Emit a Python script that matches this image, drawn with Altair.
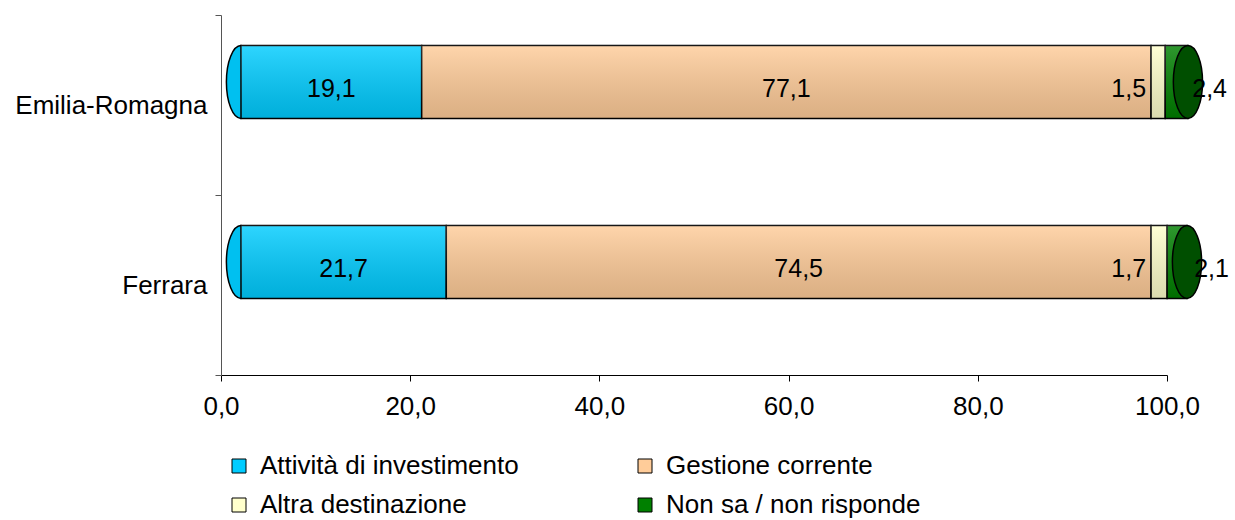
import altair as alt
import pandas as pd

categories = ["Emilia-Romagna", "Ferrara"]
series = ["Attività di investimento", "Gestione corrente", "Altra destinazione", "Non sa / non risponde"]
values_er = [19.1, 77.1, 1.5, 2.4]
values_fe = [21.7, 74.5, 1.7, 2.1]
colors = ["#00CCFF", "#FFCC99", "#FFFFCC", "#008000"]
x_ticks = [0, 20, 40, 60, 80, 100]

rows = []
for cat, vals in zip(categories, [values_er, values_fe]):
    start = 0.0
    for i, (s, v) in enumerate(zip(series, vals)):
        rows.append(dict(cat=cat, serie=s, idx=i, value=v, start=start, end=start + v,
                         mid=start + v / 2, label=f"{v:.1f}".replace(".", ",")))
        start += v
df = pd.DataFrame(rows)

FONT = "Liberation Sans"
XOFF = 20
YOFF = -23
BAR = 73

x_scale = alt.Scale(domain=[0, 100], nice=False, zero=True)
y_scale = alt.Scale(domain=categories, paddingInner=0, paddingOuter=0)

base = alt.Chart(df)

y_enc = alt.Y("cat:N", scale=y_scale, sort=categories, title=None,
              axis=alt.Axis(tickBand="extent", labelFontSize=26, labelFont=FONT,
                            labelColor="black", labelPadding=8, tickSize=6, labelLimit=400,
                            domainColor="#555", tickColor="#555", grid=False))

ellipse = "M0,-1 A0.4,1 0 1,1 0,1 A0.4,1 0 1,1 0,-1 Z"

left_cap = base.transform_filter("datum.idx == 0").mark_point(
    shape=ellipse, size=BAR * BAR, filled=True, fill="#00C0F0", stroke="black",
    strokeWidth=1.5, opacity=1, xOffset=XOFF, yOffset=YOFF
).encode(x=alt.X("start:Q", scale=x_scale), y=alt.Y("cat:N", scale=y_scale, sort=categories))

bars = base.mark_bar(stroke="black", strokeWidth=1.5, size=BAR,
                     xOffset=XOFF, x2Offset=XOFF, yOffset=YOFF, y2Offset=YOFF).encode(
    x=alt.X("start:Q", scale=x_scale, title=None,
            axis=alt.Axis(values=x_ticks, labelExpr="replace(format(datum.value, '.1f'), '.', ',')",
                          labelFontSize=26, labelFont=FONT, labelColor="black",
                          labelFlush=False, labelOverlap=False,
                          tickSize=6, labelPadding=12, domainColor="black", tickColor="black",
                          grid=False)),
    x2="end:Q",
    y=y_enc,
    color=alt.Color("serie:N", scale=alt.Scale(domain=series, range=colors), sort=series,
                    legend=alt.Legend(title=None, orient="none", legendX=5, legendY=438,
                                      direction="horizontal",
                                      columns=2, columnPadding=113, rowPadding=13,
                                      symbolType="square", symbolSize=196,
                                      symbolStrokeColor="black", symbolStrokeWidth=1,
                                      labelFontSize=26, labelFont=FONT, labelColor="black",
                                      labelOffset=8, labelLimit=500, padding=0)),
)

shade = alt.Chart(df).transform_aggregate(total="sum(value)", groupby=["cat"]).mark_bar(
    size=BAR, xOffset=XOFF, x2Offset=XOFF, yOffset=YOFF, y2Offset=YOFF,
    color=alt.Gradient(gradient="linear", x1=0, y1=0, x2=0, y2=1,
                       stops=[alt.GradientStop(offset=0, color="rgba(255,255,255,0.18)"),
                              alt.GradientStop(offset=1, color="rgba(0,0,0,0.14)")])
).encode(x=alt.X("total:Q", scale=x_scale), y=alt.Y("cat:N", scale=y_scale, sort=categories))

right_cap = alt.Chart(df).transform_aggregate(total="sum(value)", groupby=["cat"]).mark_point(
    shape=ellipse, size=BAR * BAR, filled=True, fill="#004F00", stroke="black",
    strokeWidth=1.5, opacity=1, xOffset=XOFF, yOffset=YOFF
).encode(x=alt.X("total:Q", scale=x_scale), y=alt.Y("cat:N", scale=y_scale, sort=categories))

txt_kw = dict(fontSize=25, font=FONT, color="black", baseline="middle", dy=-16)

labels_big = base.transform_filter("datum.idx < 2").mark_text(align="center", dx=XOFF, **txt_kw).encode(
    x=alt.X("mid:Q", scale=x_scale), y=alt.Y("cat:N", scale=y_scale, sort=categories), text="label:N")
labels_3 = base.transform_filter("datum.idx == 2").mark_text(align="right", dx=15, **txt_kw).encode(
    x=alt.X("start:Q", scale=x_scale), y=alt.Y("cat:N", scale=y_scale, sort=categories), text="label:N")
labels_4 = base.transform_filter("datum.idx == 3").mark_text(align="left", dx=47, **txt_kw).encode(
    x=alt.X("start:Q", scale=x_scale), y=alt.Y("cat:N", scale=y_scale, sort=categories), text="label:N")

chart = alt.layer(left_cap, bars, shade, right_cap, labels_big, labels_3, labels_4).properties(
    width=946, height=360,
    autosize=alt.AutoSizeParams(type="none"),
    padding={"left": 221, "top": 15, "right": 68, "bottom": 145},
    background="white",
).configure_view(stroke=None)

chart.save("out.html", embed_options={"renderer": "svg", "actions": False})
